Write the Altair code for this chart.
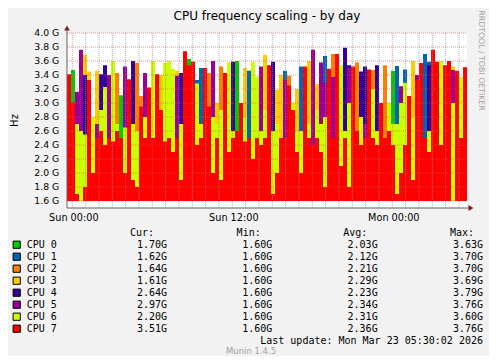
import altair as alt
import pandas as pd

# ---------------- data ----------------
cpus = ["CPU 0", "CPU 1", "CPU 2", "CPU 3", "CPU 4", "CPU 5", "CPU 6", "CPU 7"]
colors = ["#00CC00", "#0066B3", "#FF8000", "#FFCC00", "#330099", "#990099", "#CCFF00", "#FF0000"]

cpu0 = [1.6, 3.47, 1.6, 1.6, 1.6, 1.7, 1.6, 1.6, 1.6, 1.6,
        1.8, 1.6, 2.86, 3.11, 1.6, 1.6, 1.6, 1.7, 1.6, 1.6,
        1.8, 1.6, 1.6, 1.6, 1.6, 1.6, 1.7, 1.6, 1.6, 1.6,
        3.63, 1.6, 1.6, 1.6, 1.6, 1.6, 1.6, 1.6, 1.7, 1.6,
        1.6, 1.6, 3.60, 1.6, 1.6, 1.6, 1.6, 1.6, 1.7, 1.6,
        1.6, 1.6, 1.6, 1.6, 1.6, 1.6, 1.6, 1.6, 1.6, 1.6,
        1.6, 1.6, 1.6, 1.7, 1.6, 1.6, 1.6, 1.6, 1.6, 1.6,
        1.6, 1.6, 1.6, 1.6, 1.6, 1.6, 1.6, 1.6, 1.6, 1.6,
        1.6, 3.46, 1.6, 1.6, 1.6, 1.6, 1.6, 1.6, 1.6, 1.6,
        1.6, 1.6, 1.6, 1.6, 1.6, 1.6, 1.6, 1.6, 1.6, 1.70]
cpu1 = [1.7, 1.6, 1.9, 1.6, 2.0, 1.6, 1.6, 1.8, 1.6, 2.0,
        1.6, 1.7, 1.6, 1.6, 1.6, 1.9, 1.6, 1.6, 1.6, 1.7,
        1.6, 1.6, 1.9, 1.6, 3.45, 1.6, 1.6, 1.8, 1.6, 1.6,
        1.6, 1.9, 3.33, 3.50, 1.6, 1.7, 1.6, 1.6, 1.6, 2.0,
        1.6, 1.6, 1.8, 1.6, 1.6, 3.46, 1.6, 1.9, 1.6, 1.6,
        1.6, 2.2, 1.6, 1.7, 3.46, 1.6, 1.6, 1.6, 3.52, 1.6,
        1.8, 1.6, 1.6, 1.6, 3.67, 1.6, 1.9, 1.6, 1.6, 1.6,
        1.7, 1.6, 1.6, 2.1, 1.6, 1.6, 1.6, 1.6, 1.6, 1.9,
        1.6, 1.6, 3.53, 1.6, 3.48, 1.6, 1.6, 1.8, 1.6, 3.70,
        3.59, 1.6, 1.9, 1.6, 3.50, 1.6, 1.6, 1.6, 2.0, 1.62]
cpu2 = [1.6, 1.8, 1.6, 1.7, 1.6, 2.2, 2.0, 1.6, 1.9, 1.6,
        2.1, 1.6, 3.43, 2.0, 1.7, 1.6, 2.1, 3.57, 3.10, 1.6,
        1.6, 2.2, 1.6, 3.33, 1.7, 1.6, 2.1, 1.6, 1.9, 2.2,
        1.6, 1.6, 1.8, 1.6, 2.4, 3.43, 1.9, 1.6, 3.52, 1.6,
        2.1, 1.6, 1.6, 2.0, 1.9, 1.6, 1.7, 1.6, 2.0, 1.6,
        2.1, 1.6, 1.8, 1.6, 1.6, 3.39, 2.0, 1.6, 1.9, 3.53,
        1.6, 2.1, 1.6, 1.6, 1.8, 1.6, 3.70, 2.0, 1.6, 3.61,
        1.6, 1.6, 3.58, 1.6, 1.9, 1.6, 3.47, 2.0, 1.6, 3.54,
        2.0, 1.6, 1.6, 1.6, 1.6, 2.2, 1.7, 1.6, 1.6, 2.0,
        1.6, 2.1, 1.6, 1.6, 1.8, 1.6, 2.0, 1.6, 1.6, 1.64]
cpu3 = [2.0, 1.6, 2.1, 1.6, 3.69, 3.45, 2.2, 3.46, 2.1, 1.7,
        1.6, 2.4, 1.9, 1.6, 2.3, 2.0, 1.7, 2.0, 1.8, 2.2,
        1.9, 1.6, 2.1, 3.40, 1.6, 2.0, 1.6, 3.46, 1.6, 1.7,
        2.3, 1.6, 3.1, 2.0, 1.6, 1.6, 2.2, 3.0, 1.6, 1.6,
        1.8, 2.2, 1.6, 1.6, 3.50, 2.0, 2.4, 1.6, 1.6, 3.69,
        1.9, 1.6, 3.19, 3.40, 2.0, 1.6, 1.7, 3.2, 1.6, 2.2,
        3.60, 1.6, 3.27, 2.0, 1.6, 2.1, 1.6, 1.6, 2.3, 1.8,
        2.0, 2.1, 1.6, 1.6, 1.6, 2.2, 1.9, 1.6, 2.4, 1.6,
        1.6, 2.0, 1.8, 2.1, 2.0, 1.6, 3.60, 1.6, 2.2, 1.6,
        1.9, 1.6, 2.3, 2.0, 1.6, 2.1, 3.52, 2.2, 1.6, 1.61]
cpu4 = [2.4, 2.0, 1.7, 2.2, 3.40, 1.6, 1.8, 2.0, 3.41, 3.54,
        2.3, 3.58, 1.6, 2.2, 1.9, 1.6, 3.60, 1.6, 2.2, 1.6,
        1.6, 2.0, 1.6, 1.8, 2.1, 2.2, 1.6, 2.0, 3.43, 1.6,
        1.9, 2.4, 1.6, 2.2, 1.8, 2.0, 1.6, 2.1, 2.3, 2.2,
        1.6, 3.59, 2.3, 1.7, 2.1, 1.6, 1.6, 2.2, 1.6, 2.3,
        1.6, 3.59, 2.1, 1.6, 1.9, 2.2, 1.6, 2.1, 2.3, 1.6,
        2.0, 1.9, 2.4, 1.6, 2.2, 2.3, 1.6, 2.2, 1.9, 3.79,
        3.54, 2.4, 2.0, 3.45, 3.52, 1.8, 1.6, 3.54, 2.1, 1.6,
        2.3, 1.6, 2.0, 1.7, 1.8, 1.6, 2.2, 2.0, 1.9, 2.3,
        3.54, 2.0, 1.6, 2.2, 2.4, 1.8, 1.6, 2.0, 2.2, 2.64]
cpu5 = [2.2, 2.3, 3.16, 3.76, 2.1, 2.5, 2.4, 2.7, 2.0, 2.2,
        3.40, 2.0, 2.3, 1.8, 3.52, 2.4, 2.2, 2.3, 2.0, 3.43,
        2.6, 2.4, 2.3, 2.2, 2.3, 1.8, 2.4, 3.39, 2.2, 2.0,
        1.6, 2.2, 2.0, 1.7, 2.1, 2.3, 3.60, 2.4, 1.9, 1.8,
        2.4, 2.0, 2.5, 2.3, 1.6, 2.2, 2.0, 2.3, 3.52, 2.0,
        3.39, 2.4, 1.6, 2.3, 3.33, 2.0, 2.4, 1.9, 1.7, 2.0,
        2.3, 3.76, 2.1, 3.58, 3.29, 1.9, 3.37, 1.8, 2.0, 2.2,
        3.50, 1.9, 2.4, 2.2, 2.7, 2.0, 2.3, 2.2, 1.7, 2.2,
        1.8, 2.2, 1.6, 3.24, 2.2, 2.0, 1.6, 3.40, 2.4, 1.7,
        2.1, 1.8, 2.0, 1.7, 2.0, 2.3, 3.47, 1.9, 2.4, 2.97]
cpu6 = [3.4, 2.6, 2.7, 2.6, 2.55, 2.9, 2.8, 2.3, 2.9, 3.23,
        2.2, 3.60, 2.7, 2.4, 2.65, 3.10, 2.7, 2.6, 2.5, 2.8,
        2.4, 3.60, 2.9, 2.5, 3.57, 3.60, 3.49, 2.2, 2.7, 2.6,
        2.5, 2.0, 3.28, 2.7, 2.2, 2.6, 2.8, 2.7, 2.9, 2.5,
        3.58, 2.6, 2.2, 2.6, 2.8, 2.3, 3.59, 3.38, 2.6, 2.9,
        2.5, 2.6, 2.7, 2.2, 2.4, 2.5, 3.0, 2.6, 2.6, 2.4,
        2.7, 2.2, 2.9, 2.7, 2.8, 2.6, 2.2, 2.4, 3.54, 2.6,
        3.0, 2.7, 2.3, 2.8, 2.2, 3.3, 3.2, 2.6, 2.5, 2.3,
        3.0, 2.7, 2.7, 3.0, 3.29, 2.5, 2.8, 2.3, 2.6, 2.2,
        2.6, 2.4, 2.8, 3.60, 2.5, 3.0, 3.0, 3.1, 3.37, 2.20]
cpu7 = [3.41, 3.01, 1.7, 1.6, 1.8, 3.33, 2.0, 2.5, 2.6, 2.4,
        2.5, 2.45, 2.6, 2.5, 2.0, 3.34, 1.9, 1.8, 2.95, 2.5,
        3.22, 2.5, 3.41, 2.9, 2.45, 2.5, 2.3, 2.5, 1.9, 3.74,
        3.54, 3.59, 2.4, 2.5, 3.50, 2.95, 2.0, 2.5, 1.9, 3.43,
        2.3, 2.5, 2.6, 3.0, 2.45, 2.5, 2.2, 2.5, 2.4, 2.5,
        3.54, 1.7, 2.0, 2.5, 2.5, 3.25, 2.9, 2.3, 2.0, 3.51,
        2.5, 2.4, 2.5, 2.3, 1.8, 3.49, 2.5, 3.70, 2.1, 2.5,
        1.8, 3.52, 2.6, 2.4, 2.5, 3.48, 2.5, 2.4, 3.0, 2.5,
        2.6, 2.4, 1.7, 2.0, 2.4, 3.1, 1.9, 3.33, 3.57, 2.5,
        2.3, 3.76, 3.59, 2.4, 3.54, 3.60, 1.6, 3.46, 2.5, 3.51]
series = [cpu0, cpu1, cpu2, cpu3, cpu4, cpu5, cpu6, cpu7]

y_ticks = [1.6, 1.8, 2.0, 2.2, 2.4, 2.6, 2.8, 3.0, 3.2, 3.4, 3.6, 3.8, 4.0]
y_tick_labels = ["1.6 G", "1.8 G", "2.0 G", "2.2 G", "2.4 G", "2.6 G", "2.8 G",
                 "3.0 G", "3.2 G", "3.4 G", "3.6 G", "3.8 G", "4.0 G"]
x_tick_times = ["2026-03-22T00:00:00", "2026-03-22T12:00:00", "2026-03-23T00:00:00"]
x_tick_labels = ["Sun 00:00", "Sun 12:00", "Mon 00:00"]

stat_names = ["Cur", "Min", "Avg", "Max"]
headers = ["Cur:", "Min:", "Avg:", "Max:"]
cur_vals = ["1.70G", "1.62G", "1.64G", "1.61G", "2.64G", "2.97G", "2.20G", "3.51G"]
min_vals = ["1.60G", "1.60G", "1.60G", "1.60G", "1.60G", "1.60G", "1.60G", "1.60G"]
avg_vals = ["2.03G", "2.12G", "2.21G", "2.29G", "2.23G", "2.34G", "2.31G", "2.36G"]
max_vals = ["3.63G", "3.70G", "3.70G", "3.69G", "3.79G", "3.76G", "3.60G", "3.76G"]
last_update = "Last update: Mon Mar 23 05:30:02 2026"
version = "Munin 1.4.5"
watermark = "RRDTOOL / TOBI OETIKER"
title = "CPU frequency scaling - by day"
y_title = "Hz"

# ---------------- time grid ----------------
start = pd.Timestamp("2026-03-21 23:36:00")
step = pd.Timedelta(minutes=18)
times = [(start + step * i).strftime("%Y-%m-%dT%H:%M:%S") for i in range(101)]
t_start = alt.DateTime(year=2026, month=3, date=21, hours=23, minutes=36)
t_end = alt.DateTime(year=2026, month=3, date=23, hours=5, minutes=36)
hours_all = pd.date_range("2026-03-22 00:00", "2026-03-23 05:00", freq="1h")
major_times = [t.strftime("%Y-%m-%dT%H:%M:%S") for t in hours_all if t.hour % 6 == 0]
minor_times = [t.strftime("%Y-%m-%dT%H:%M:%S") for t in hours_all if t.hour % 6 != 0]

FONT = "DejaVu Sans"
MONO = "DejaVu Sans Mono"

x_scale = alt.Scale(domain=[t_start, t_end], nice=False)
y_scale = alt.Scale(domain=[1.5, 4.0], nice=False, zero=False)
color_scale = alt.Scale(domain=cpus, range=colors)

plot_layers = []
for name, vals in zip(cpus, series):
    df = pd.DataFrame({"time": times, "cpu": name, "hz": vals + [vals[-1]]})
    plot_layers.append(
        alt.Chart(df).mark_area(interpolate="step-after", opacity=1).encode(
            x=alt.X("time:T", scale=x_scale, axis=None),
            y=alt.Y("hz:Q", scale=y_scale, axis=None),
            y2=alt.datum(1.6),
            color=alt.Color("cpu:N", scale=color_scale, legend=None),
        )
    )

# grid (drawn over the data, as rrdtool does)
plot_layers.append(alt.Chart(pd.DataFrame({"time": minor_times})).mark_rule(
    color="#8F8F8F", opacity=0.75, strokeDash=[1, 1], strokeWidth=1
).encode(x=alt.X("time:T", scale=x_scale, axis=None), y=alt.value(0), y2=alt.value(175)))
plot_layers.append(alt.Chart(pd.DataFrame({"time": major_times})).mark_rule(
    color="#DE4F4F", opacity=0.6, strokeDash=[1, 1], strokeWidth=1
).encode(x=alt.X("time:T", scale=x_scale, axis=None), y=alt.value(0), y2=alt.value(175)))
plot_layers.append(alt.Chart(pd.DataFrame({"v": y_ticks})).mark_rule(
    color="#DE4F4F", opacity=0.6, strokeDash=[1, 1], strokeWidth=1
).encode(y=alt.Y("v:Q", scale=y_scale, axis=None), x=alt.value(0), x2=alt.value(400)))

# axis lines and arrows
one = pd.DataFrame({"a": [0]})
plot_layers.append(alt.Chart(one).mark_rule(color="#606060", strokeWidth=1).encode(
    x=alt.value(0), y=alt.value(-4), y2=alt.value(175)))
plot_layers.append(alt.Chart(one).mark_rule(color="#606060", strokeWidth=1).encode(
    x=alt.value(0), x2=alt.value(403), y=alt.value(175)))
plot_layers.append(alt.Chart(one).mark_point(
    shape="triangle-up", filled=True, size=34, color="#801F1F", opacity=1
).encode(x=alt.value(0), y=alt.value(-5)))
plot_layers.append(alt.Chart(one).mark_point(
    shape="triangle-right", filled=True, size=34, color="#801F1F", opacity=1
).encode(x=alt.value(404), y=alt.value(175)))

# tick labels
plot_layers.append(alt.Chart(pd.DataFrame({"v": y_ticks, "lab": y_tick_labels})).mark_text(
    align="right", baseline="middle", font=FONT, fontSize=9.3, color="black"
).encode(y=alt.Y("v:Q", scale=y_scale, axis=None), x=alt.value(-7.7), text="lab:N"))
plot_layers.append(alt.Chart(pd.DataFrame({"time": x_tick_times, "lab": x_tick_labels})).mark_text(
    align="center", baseline="alphabetic", font=FONT, fontSize=9.7, color="black", dx=1.5
).encode(x=alt.X("time:T", scale=x_scale, axis=None), y=alt.value(187.7), text="lab:N"))
plot_layers.append(alt.Chart(pd.DataFrame({"text": [y_title]})).mark_text(
    align="center", baseline="middle", font=FONT, fontSize=10, color="black", angle=270
).encode(x=alt.value(-52), y=alt.value(87.5), text="text:N"))

plot_block = alt.layer(*plot_layers)

# ---------------- legend table ----------------
row_domain = ["hdr"] + cpus + ["upd"]
row_scale = alt.Scale(type="point", domain=row_domain, range=[199.7, 307.7], padding=0)

part_scale = alt.Scale(type="point", domain=["swatch", "label"], range=[-50.3, -40.3], padding=0)
val_scale = alt.Scale(type="point", domain=stat_names, range=[100, 416], padding=0)
hdr_scale = alt.Scale(type="point", domain=stat_names, range=[75, 395], padding=0)

sw_df = pd.DataFrame({"part": "swatch", "row": cpus, "cpu": cpus})
lab_df = pd.DataFrame({"part": "label", "row": cpus, "text": cpus})
rows, stats, texts = [], [], []
for name, c, mn, av, mx in zip(cpus, cur_vals, min_vals, avg_vals, max_vals):
    for s, t in zip(stat_names, [c, mn, av, mx]):
        rows.append(name); stats.append(s); texts.append(t)
rows.append("upd"); stats.append("Max"); texts.append(last_update)
val_df = pd.DataFrame({"row": rows, "stat": stats, "text": texts})
hdr_df = pd.DataFrame({"row": "hdr", "stat": stat_names, "text": headers})

swatches = alt.Chart(sw_df).mark_square(size=52, opacity=1, stroke="black", strokeWidth=1).encode(
    x=alt.X("part:N", scale=part_scale, axis=None),
    y=alt.Y("row:N", scale=row_scale, axis=None),
    color=alt.Color("cpu:N", scale=color_scale, legend=None),
)
labels = alt.Chart(lab_df).mark_text(align="left", baseline="middle", font=MONO, fontSize=10, color="black").encode(
    x=alt.X("part:N", scale=part_scale, axis=None),
    y=alt.Y("row:N", scale=row_scale, axis=None),
    text="text:N",
)
values = alt.Chart(val_df).mark_text(align="right", baseline="middle", font=MONO, fontSize=10, color="black").encode(
    x=alt.X("stat:N", scale=val_scale, axis=None),
    y=alt.Y("row:N", scale=row_scale, axis=None),
    text="text:N",
)
heads = alt.Chart(hdr_df).mark_text(align="center", baseline="middle", font=MONO, fontSize=10, color="black").encode(
    x=alt.X("stat:N", scale=hdr_scale, axis=None),
    y=alt.Y("row:N", scale=row_scale, axis=None),
    text="text:N",
)
ver = alt.Chart(pd.DataFrame({"text": [version]})).mark_text(
    align="center", baseline="middle", font=FONT, fontSize=8.5, color="#A0A0A0"
).encode(x=alt.value(184), y=alt.value(317.5), text="text:N")
wm = alt.Chart(pd.DataFrame({"text": [watermark]})).mark_text(
    align="center", baseline="middle", font=FONT, fontSize=7.8, color="#A0A0A0", angle=90
).encode(x=alt.value(414), y=alt.value(27.5), text="text:N")
ttl = alt.Chart(pd.DataFrame({"text": [title]})).mark_text(
    align="center", baseline="alphabetic", font=FONT, fontSize=12, color="black"
).encode(x=alt.value(200), y=alt.value(-13.4), text="text:N")

legend_block = alt.layer(swatches, labels, values, heads, ver, wm, ttl).resolve_scale(x="independent")

chart = alt.layer(plot_block, legend_block).resolve_scale(
    x="independent", y="independent"
).properties(
    width=400, height=175,
    autosize=alt.AutoSizeParams(type="none"),
    padding={"left": 59, "top": 25, "right": 22, "bottom": 148},
    background="#F2F2F2",
).configure(font=FONT).configure_view(fill="white", stroke=None)

chart.save("out.html", embed_options={"renderer": "svg", "actions": False})
